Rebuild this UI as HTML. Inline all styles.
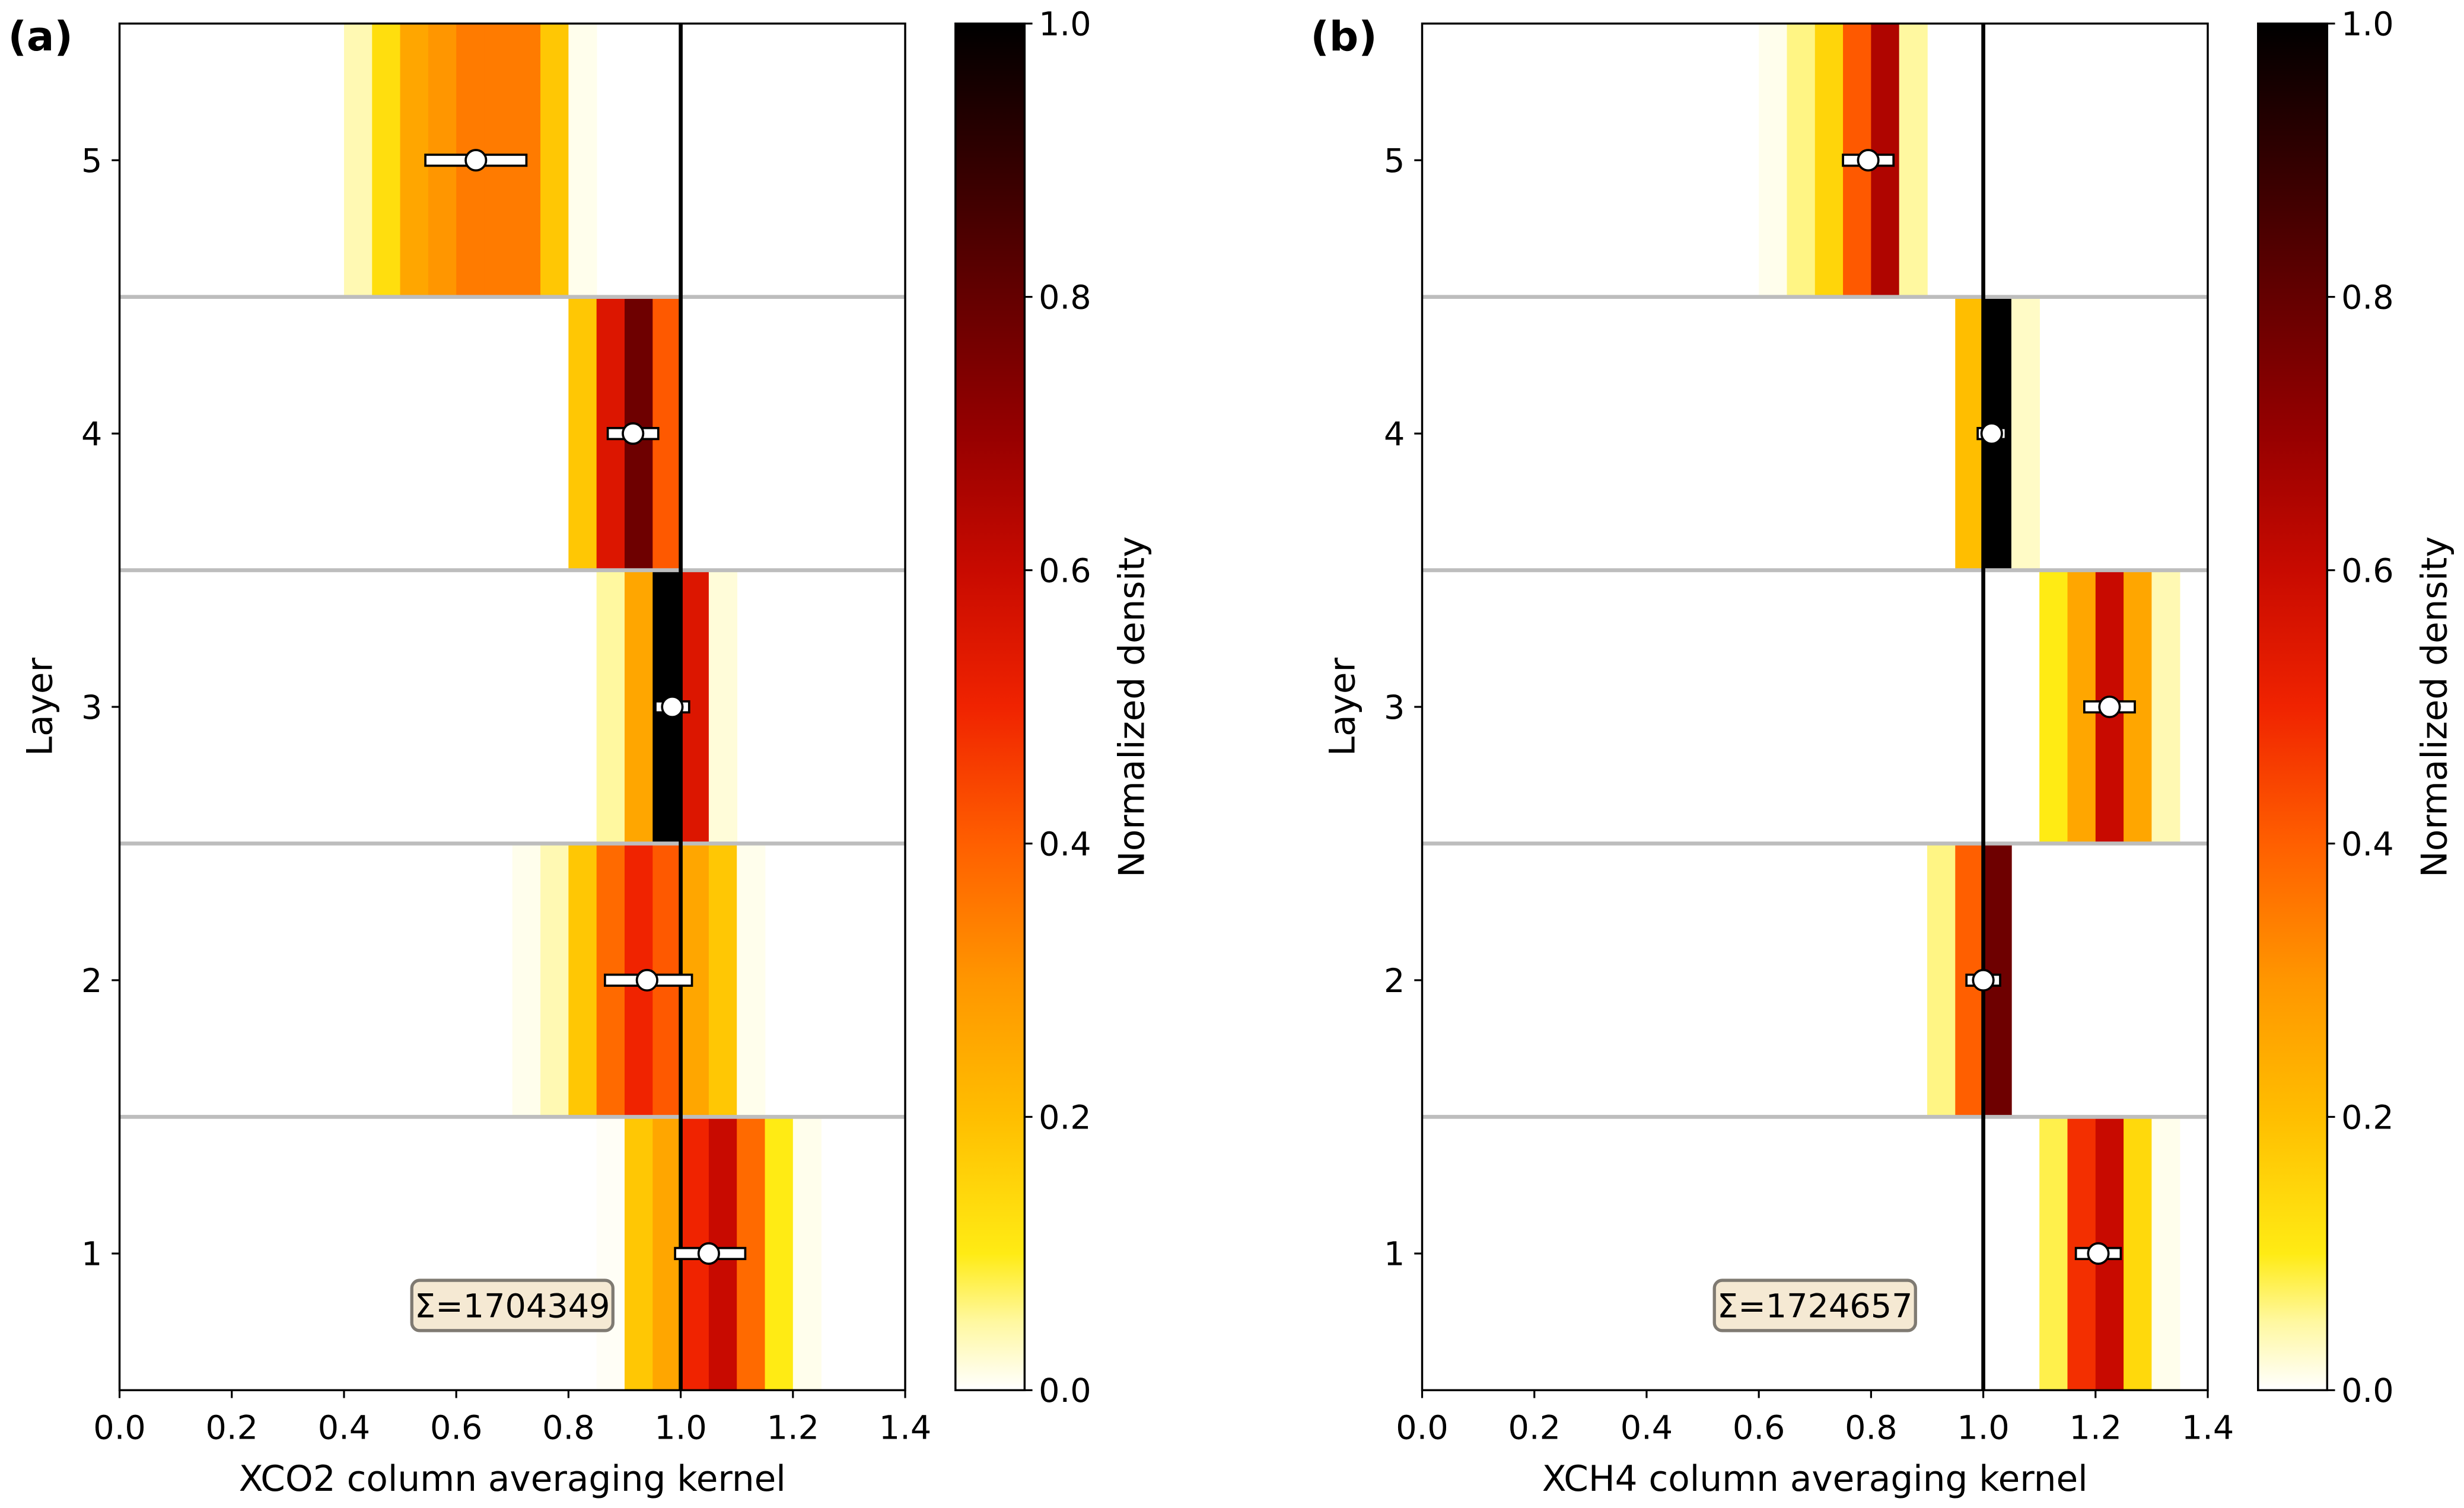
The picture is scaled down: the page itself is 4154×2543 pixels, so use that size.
<!DOCTYPE html>
<html><head><meta charset="utf-8"><style>
html,body{margin:0;padding:0;background:#fff;}
svg{display:block;font-family:"DejaVu Sans","Liberation Sans",sans-serif;}
</style></head><body>
<svg id="fig" width="4154" height="2543" viewBox="0 0 1568 960" xmlns="http://www.w3.org/2000/svg">
<defs>
<linearGradient id="cbgrad" x1="0" y1="1" x2="0" y2="0">
<stop offset="0" stop-color="#ffffff"/>
<stop offset="0.05" stop-color="#fff8a0"/>
<stop offset="0.1" stop-color="#ffeb14"/>
<stop offset="0.2" stop-color="#ffbe00"/>
<stop offset="0.3" stop-color="#ff9600"/>
<stop offset="0.4" stop-color="#ff5f00"/>
<stop offset="0.5" stop-color="#f02300"/>
<stop offset="0.6" stop-color="#c80a00"/>
<stop offset="0.7" stop-color="#960000"/>
<stop offset="0.8" stop-color="#640000"/>
<stop offset="0.9" stop-color="#320000"/>
<stop offset="1" stop-color="#000000"/>
</linearGradient>
</defs>
</svg>
<script>
// ---- data ----
const layers = [1,2,3,4,5];
const xTicks = [0.0,0.2,0.4,0.6,0.8,1.0,1.2,1.4];
const cbTicks = [0.0,0.2,0.4,0.6,0.8,1.0];
// bins: [layer, binStart, density]
const binsA = [
 [5,0.40,0.04],[5,0.45,0.13],[5,0.50,0.26],[5,0.55,0.30],[5,0.60,0.35],[5,0.65,0.35],[5,0.70,0.35],[5,0.75,0.18],[5,0.80,0.01],
 [4,0.80,0.18],[4,0.85,0.55],[4,0.90,0.78],[4,0.95,0.41],
 [3,0.85,0.05],[3,0.90,0.26],[3,0.95,1.0],[3,1.00,0.55],[3,1.05,0.02],
 [2,0.70,0.01],[2,0.75,0.04],[2,0.80,0.18],[2,0.85,0.38],[2,0.90,0.5],[2,0.95,0.41],[2,1.00,0.26],[2,1.05,0.18],[2,1.10,0.01],
 [1,0.85,0.005],[1,0.90,0.18],[1,0.95,0.26],[1,1.00,0.5],[1,1.05,0.6],[1,1.10,0.38],[1,1.15,0.1],[1,1.20,0.01]
];
const binsB = [
 [5,0.60,0.01],[5,0.65,0.06],[5,0.70,0.15],[5,0.75,0.41],[5,0.80,0.65],[5,0.85,0.05],
 [4,0.95,0.2],[4,1.00,1.0],[4,1.05,0.03],
 [3,1.10,0.1],[3,1.15,0.26],[3,1.20,0.6],[3,1.25,0.26],[3,1.30,0.04],
 [2,0.90,0.06],[2,0.95,0.4],[2,1.00,0.78],
 [1,1.10,0.08],[1,1.15,0.48],[1,1.20,0.6],[1,1.25,0.14],[1,1.30,0.01]
];
const meanA = [1.05,0.94,0.985,0.915,0.635];
const loA = [0.99,0.865,0.955,0.87,0.545];
const hiA = [1.115,1.02,1.015,0.96,0.725];
const meanB = [1.205,1.0,1.225,1.015,0.795];
const loB = [1.165,0.97,1.18,0.99,0.75];
const hiB = [1.245,1.03,1.27,1.04,0.84];
const sumA = "Σ=1704349", sumB = "Σ=1724657";

// ---- drawing ----
const NS="http://www.w3.org/2000/svg";
const svg=document.getElementById('fig');
function mk(tag,attrs,parent){const e=document.createElementNS(NS,tag);for(const k in attrs)e.setAttribute(k,attrs[k]);(parent||svg).appendChild(e);return e;}
const stops=[[0,[255,255,255]],[0.05,[255,248,160]],[0.1,[255,235,20]],[0.2,[255,190,0]],[0.3,[255,150,0]],[0.4,[255,95,0]],[0.5,[240,35,0]],[0.6,[200,10,0]],[0.7,[150,0,0]],[0.8,[100,0,0]],[0.9,[50,0,0]],[1,[0,0,0]]];
function cmap(v){v=Math.max(0,Math.min(1,v));for(let i=1;i<stops.length;i++){if(v<=stops[i][0]){const a=stops[i-1],b=stops[i];const t=(v-a[0])/(b[0]-a[0]);const c=a[1].map((x,j)=>Math.round(x+(b[1][j]-x)*t));return `rgb(${c[0]},${c[1]},${c[2]})`;}}return '#000';}
const yTop=15,yBot=885;
function yS(l){return yTop+(5.5-l)*(yBot-yTop)/5;}

function panel(x0,letter,bins,mean,lo,hi,sumTxt,xlabel,cbx,idp){
  const x1=x0+500;
  const xS=v=>x0+v*(x1-x0)/1.4;
  const g=mk('g',{});
  
  
  bins.forEach(b=>{
    const r=mk('rect',{x:xS(b[1]),y:yS(b[0]+0.5),width:xS(b[1]+0.05)-xS(b[1])+0.3,height:yS(b[0]-0.5)-yS(b[0]+0.5),fill:cmap(b[2])},g);
    
    
  });
  [1.5,2.5,3.5,4.5].forEach(l=>{
    const ln=mk('line',{x1:x0,x2:x1,y1:yS(l),y2:yS(l),stroke:'#bdbdbd','stroke-width':2.5},g);
    
    
  });
  const ref=mk('line',{x1:xS(1),x2:xS(1),y1:yTop,y2:yBot,stroke:'#000','stroke-width':2.5},g);
  
  
  layers.forEach((l,i)=>{
    const eb=mk('rect',{x:xS(lo[i]),y:yS(l)-3.5,width:xS(hi[i])-xS(lo[i]),height:7,fill:'#fff',stroke:'#000','stroke-width':1.4},g);
    
    
    const c=mk('circle',{cx:xS(mean[i]),cy:yS(l),r:6.5,fill:'#fff',stroke:'#000','stroke-width':1.4},g);
    
    
  });
  const fr=mk('rect',{x:x0,y:yTop,width:500,height:yBot-yTop,fill:'none',stroke:'#000','stroke-width':1.3},g);
  
  
  xTicks.forEach(t=>{
    mk('line',{x1:xS(t),x2:xS(t),y1:yBot,y2:yBot+5,stroke:'#000','stroke-width':1.2},g);
    const tx=mk('text',{x:xS(t),y:yBot+31,'text-anchor':'middle','font-size':21},g);
    tx.textContent=t.toFixed(1);
    
    
  });
  layers.forEach(l=>{
    mk('line',{x1:x0-5,x2:x0,y1:yS(l),y2:yS(l),stroke:'#000','stroke-width':1.2},g);
    const tx=mk('text',{x:x0-11,y:yS(l)+7.5,'text-anchor':'end','font-size':21},g);
    tx.textContent=String(l);
    
    
  });
  const xl=mk('text',{x:(x0+x1)/2,y:yBot+64,'text-anchor':'middle','font-size':22.5},g);
  xl.textContent=xlabel;
  
  
  const yl=mk('text',{x:0,y:0,'text-anchor':'middle','font-size':22.5,transform:`translate(${x0-43},${(yTop+yBot)/2}) rotate(-90)`},g);
  yl.textContent='Layer';
  
  
  const lt=mk('text',{x:x0-71,y:32,'font-size':26,'font-weight':'bold'},g);
  lt.textContent=letter;
  
  
  const bx=xS(0.70), by=yS(0.81);
  const box=mk('rect',{x:bx-64,y:by-16,width:128,height:32,rx:5,fill:'#f5e9d3',stroke:'#7f7a72','stroke-width':2},g);
  
  
  const st=mk('text',{x:bx,y:by+7.5,'text-anchor':'middle','font-size':21},g);
  st.textContent=sumTxt;
  
  
  const cb=mk('rect',{x:cbx,y:yTop,width:44,height:yBot-yTop,fill:'url(#cbgrad)',stroke:'#000','stroke-width':1.3},g);
  
  
  cbTicks.forEach(t=>{
    const y=yBot-t*(yBot-yTop);
    mk('line',{x1:cbx+44,x2:cbx+49,y1:y,y2:y,stroke:'#000','stroke-width':1.2},g);
    const tx=mk('text',{x:cbx+53,y:y+7.5,'font-size':21},g);
    tx.textContent=t.toFixed(1);
    
    
  });
  const cl=mk('text',{x:0,y:0,'text-anchor':'middle','font-size':22.5,transform:`translate(${cbx+120},${(yTop+yBot)/2}) rotate(-90)`},g);
  cl.textContent='Normalized density';
  
  
}
panel(76,'(a)',binsA,meanA,loA,hiA,sumA,'XCO2 column averaging kernel',608,'a');
panel(905,'(b)',binsB,meanB,loB,hiB,sumB,'XCH4 column averaging kernel',1437,'b');
</script>
</body></html>
